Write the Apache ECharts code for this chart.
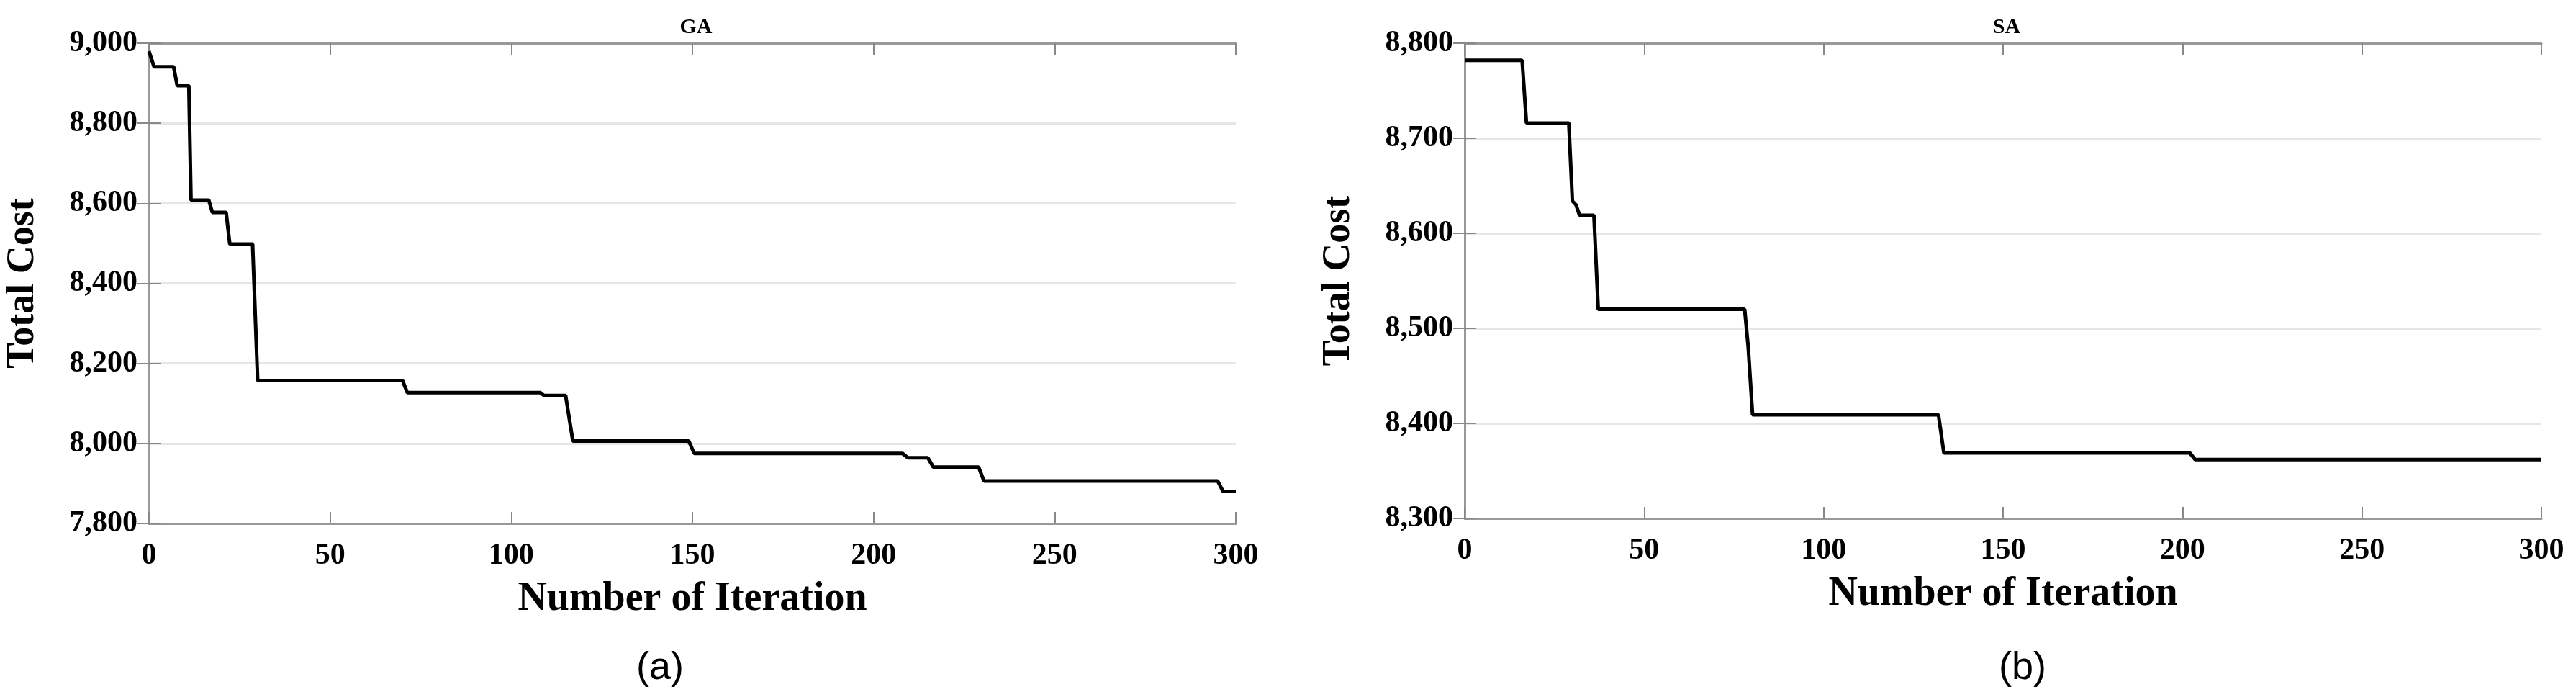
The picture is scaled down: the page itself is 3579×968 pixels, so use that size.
<!DOCTYPE html>
<html><head><meta charset="utf-8">
<script src="https://cdn.jsdelivr.net/npm/echarts@6/dist/echarts.min.js"></script>
<style>html,body{margin:0;padding:0;background:#fff}#c{width:3579px;height:968px}</style>
</head><body><div id="c"></div>
<script>
const gaX = [0, 1.4, 6.8, 7.8, 11, 11.6, 16.5, 17.5, 21.3, 22.3, 28.6, 30, 70, 71.3, 108, 109, 115, 117, 149, 150.5, 208, 209.5, 215, 216.5, 229, 230.5, 295, 296.5, 300];
const gaY = [8980, 8941, 8941, 8894, 8894, 8608, 8608, 8577, 8577, 8498, 8498, 8157, 8157, 8127, 8127, 8120, 8120, 8006, 8006, 7975, 7975, 7964, 7964, 7941, 7941, 7906, 7906, 7880, 7880];
const saX = [0, 16, 17.2, 29, 30, 31, 32, 36, 37.2, 78, 79, 80.2, 132, 133.5, 202, 203.5, 300];
const saY = [8782, 8782, 8716, 8716, 8634, 8630, 8619, 8619, 8520, 8520, 8480, 8409, 8409, 8369, 8369, 8362, 8362];
const xTicks = [0, 50, 100, 150, 200, 250, 300];
const gaYRange = [7800, 9000, 200];
const saYRange = [8300, 8800, 100];
const titles = ['GA', 'SA'];
const captions = ['(a)', '(b)'];

const serif = 'Liberation Serif';
const pairs = (xs, ys) => xs.map((x, i) => [x, ys[i]]);
function xAx(gi, top) {
  return {type: 'value', gridIndex: gi, min: xTicks[0], max: xTicks[xTicks.length-1], interval: 50,
    position: top ? 'top' : 'bottom',
    name: top ? '' : 'Number of Iteration', nameLocation: 'middle', nameGap: 78,
    nameTextStyle: {fontFamily: serif, fontWeight: 'bold', fontSize: 56, color: '#000'},
    axisLine: {lineStyle: {color: '#999', width: 3}},
    axisTick: {inside: true, length: 16, lineStyle: {color: '#888', width: 2}},
    axisLabel: {show: !top, fontFamily: serif, fontWeight: 'bold', fontSize: 42, color: '#000', margin: 24},
    splitLine: {show: false}};
}
function yAx(gi, r, right) {
  return {type: 'value', gridIndex: gi, min: r[0], max: r[1], interval: r[2],
    position: right ? 'right' : 'left',
    name: right ? '' : 'Total Cost', nameLocation: 'middle', nameGap: 148,
    nameTextStyle: {fontFamily: serif, fontWeight: 'bold', fontSize: 54, color: '#000'},
    axisLine: {lineStyle: {color: '#999', width: 3}},
    axisTick: {inside: true, length: 16, lineStyle: {color: '#888', width: 2}},
    axisLabel: {show: !right, fontFamily: serif, fontWeight: 'bold', fontSize: 42, color: '#000', margin: 16},
    splitLine: {show: !right, lineStyle: {color: '#e6e6e6', width: 3}}};
}
const chart = echarts.init(document.getElementById('c'));
chart.setOption({
  animation: false,
  title: [
    {text: titles[0], left: 962, top: 18, textAlign: 'center', textStyle: {fontFamily: serif, fontWeight: 'bold', fontSize: 30, color: '#000'}},
    {text: titles[1], left: 2783, top: 18, textAlign: 'center', textStyle: {fontFamily: serif, fontWeight: 'bold', fontSize: 30, color: '#000'}},
    {text: captions[0], left: 912, top: 896, textAlign: 'center', textStyle: {fontFamily: 'Liberation Sans', fontWeight: 'normal', fontSize: 54, color: '#000'}},
    {text: captions[1], left: 2805, top: 896, textAlign: 'center', textStyle: {fontFamily: 'Liberation Sans', fontWeight: 'normal', fontSize: 54, color: '#000'}}
  ],
  grid: [
    {left: 207, right: 1862, top: 60, bottom: 241},
    {left: 2035, right: 48, top: 60, bottom: 248}
  ],
  xAxis: [xAx(0, false), xAx(0, true), xAx(1, false), xAx(1, true)],
  yAxis: [yAx(0, gaYRange, false), yAx(0, gaYRange, true), yAx(1, saYRange, false), yAx(1, saYRange, true)],
  series: [
    {type: 'line', xAxisIndex: 0, yAxisIndex: 0, data: pairs(gaX, gaY), showSymbol: false, lineStyle: {color: '#000', width: 5}},
    {type: 'line', xAxisIndex: 2, yAxisIndex: 2, data: pairs(saX, saY), showSymbol: false, lineStyle: {color: '#000', width: 5}}
  ]
});
</script></body></html>
